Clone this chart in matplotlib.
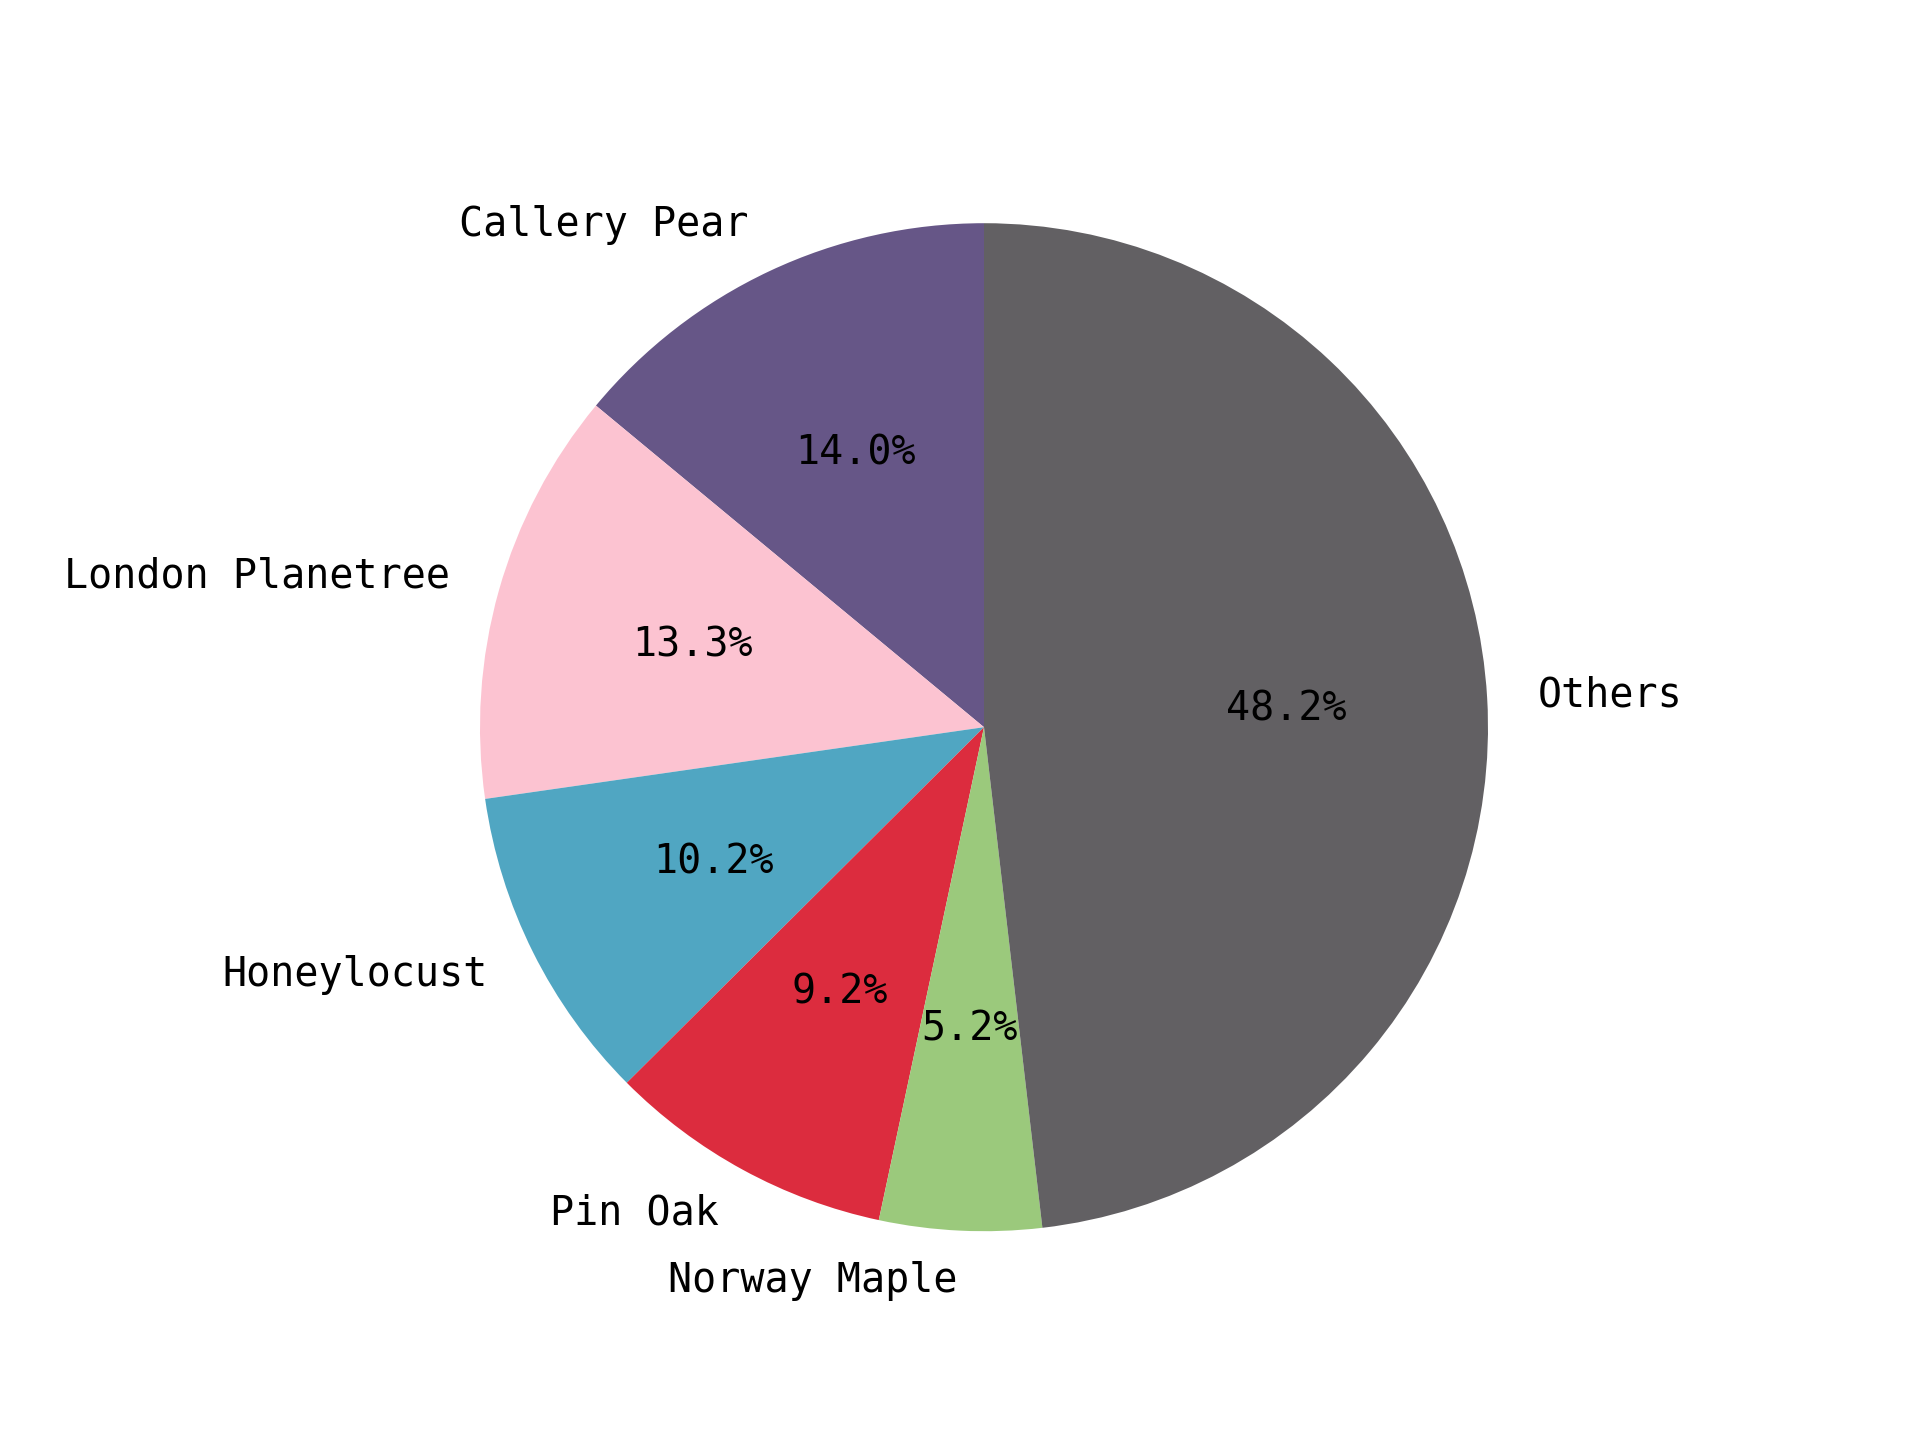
import matplotlib
matplotlib.use('Agg')
import matplotlib.pyplot as plt

labels = ['Callery Pear', 'London Planetree', 'Honeylocust', 'Pin Oak', 'Norway Maple', 'Others']
shares = [14.0, 13.3, 10.2, 9.2, 5.2, 48.2]
colors = ['#665687', '#fcc3d1', '#50a6c2', '#dc2c3e', '#9bc97c', '#626063']

plt.rcParams['font.family'] = 'DejaVu Sans Mono'
plt.rcParams['font.size'] = 12

fig, ax = plt.subplots(figsize=(8, 6))
ax.pie(shares, labels=labels, colors=colors, autopct='%1.1f%%', startangle=90)
ax.axis('equal')
fig.savefig('out.png', dpi=240)
